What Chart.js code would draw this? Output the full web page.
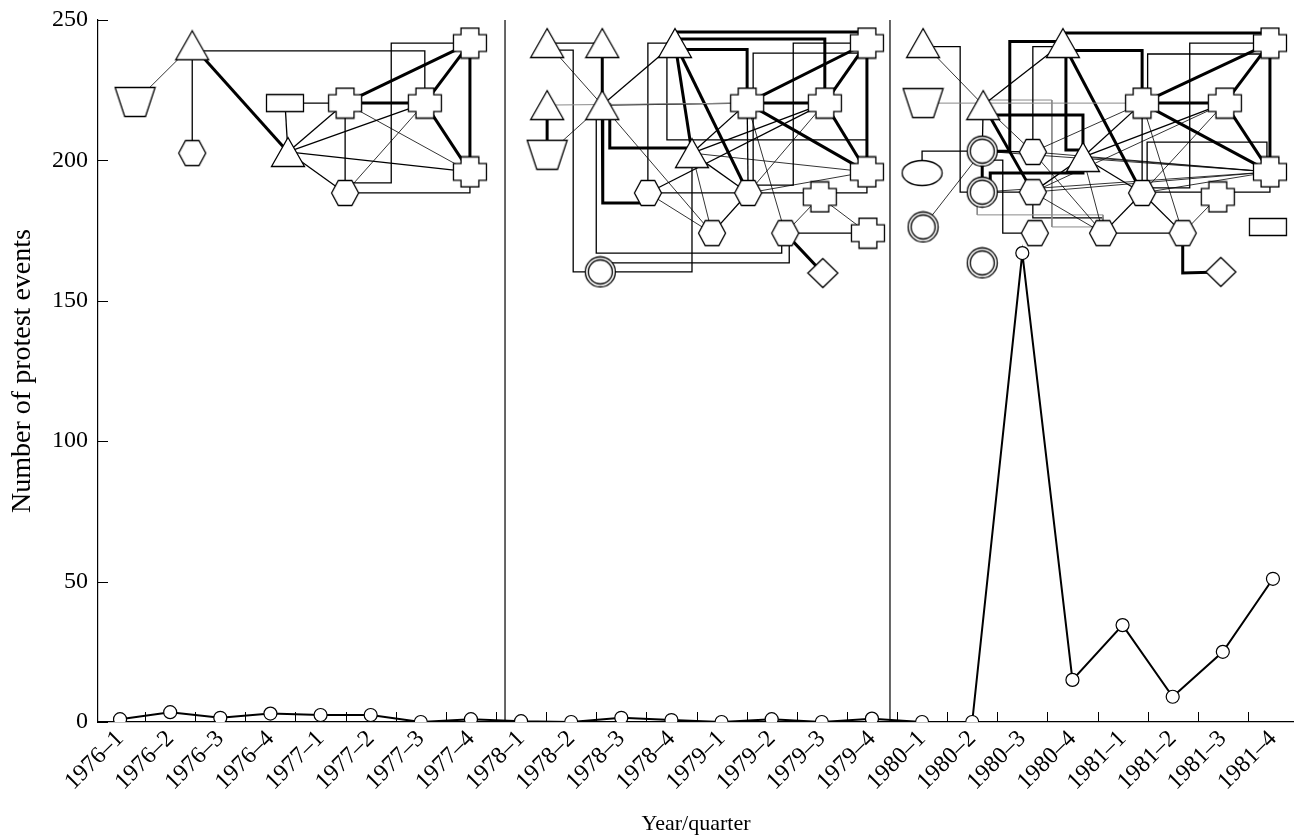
<!DOCTYPE html>
<html>
<head>
<meta charset="utf-8">
<script src="https://cdn.jsdelivr.net/npm/chart.js@4"></script>
<style>
  html, body { margin: 0; padding: 0; background: #fff; }
  #wrap { width: 1294px; height: 837px; }
</style>
</head>
<body>
<div id="wrap"><canvas id="chart"></canvas></div>
<script>
// ---- data ----
const quarterLabels = ['1976–1','1976–2','1976–3','1976–4','1977–1','1977–2','1977–3','1977–4',
  '1978–1','1978–2','1978–3','1978–4','1979–1','1979–2','1979–3','1979–4',
  '1980–1','1980–2','1980–3','1980–4','1981–1','1981–2','1981–3','1981–4'];
const protestEvents = [1, 3.5, 1.5, 3, 2.5, 2.5, 0, 1, 0.3, 0, 1.5, 0.7, 0, 1, 0, 1.2, 0, 0, 167, 15, 34.5, 9, 25, 51];
const periodBreaks = [7.68, 15.36];

// network nodes (x = quarter index, y = value scale)
const nodeX = [1.44, 0.30, 1.44, 3.29, 3.35, 4.49, 6.08, 6.98, 6.98, 4.49,
  8.52, 9.62, 8.52, 8.52, 9.62, 11.07, 11.41, 10.53, 9.58, 11.81, 12.53, 12.51, 14.06, 14.90, 14.90, 13.96, 14.92, 13.27, 14.02,
  16.02, 16.02, 17.22, 16.00, 17.20, 17.20, 16.02, 17.20, 18.21, 18.21, 18.81, 19.21, 18.25, 19.61, 20.39, 20.39, 22.04, 22.94, 22.94, 21.90, 21.20, 22.90, 21.96];
const nodeY = [241, 220.8, 202.6, 220.4, 203, 220.4, 220.4, 241.8, 195.9, 188.4,
  241.8, 241.8, 219.7, 202, 219.7, 241.8, 202.6, 188.4, 160.3, 174.1, 188.4, 220.4, 220.4, 241.8, 195.9, 187, 174.1, 174.1, 159.9,
  241.8, 220.4, 219.7, 195.5, 203.3, 188.7, 176.3, 163.5, 203, 188.7, 241.8, 201.2, 174.1, 174.1, 188.4, 220.4, 220.4, 241.8, 195.9, 187, 174.1, 176.3, 160.3];
const nodeShape = ['tri','trap','hex','rect','tri','cross','cross','cross','cross','hex',
  'tri','tri','tri','trap','tri','tri','tri','hex','ring','hex','hex','cross','cross','cross','cross','cross','cross','hex','diamond',
  'tri','trap','tri','oval','ring','ring','ring','ring','hex','hex','tri','tri','hex','hex','hex','cross','cross','cross','cross','cross','hex','rect','diamond'];

// straight ties: [from, to, weight]  t thin, m medium, T thick, g grey
const straightEdges = [
  [0,1,'t'],[0,2,'m'],[0,4,'T'],[3,4,'m'],[3,5,'m'],[4,5,'m'],[4,6,'m'],[4,8,'m'],[4,9,'m'],[5,6,'T'],[5,7,'T'],
  [5,9,'m'],[5,8,'t'],[6,7,'T'],[6,8,'T'],[6,9,'t'],[7,8,'T'],
  [10,11,'m'],[10,14,'t'],[14,19,'t'],[11,14,'T'],[12,13,'T'],[13,14,'t'],[14,15,'m'],[12,21,'g'],[14,21,'m'],
  [15,16,'T'],[15,20,'T'],[16,21,'m'],[16,22,'m'],[16,24,'t'],[16,19,'t'],[16,20,'m'],[17,22,'m'],[17,19,'t'],
  [17,20,'m'],[20,19,'m'],[20,21,'m'],[20,22,'t'],[20,24,'t'],[21,22,'T'],[21,23,'T'],[21,24,'T'],[22,23,'T'],
  [22,24,'T'],[23,24,'T'],[21,27,'t'],[21,24,'t'],[25,27,'t'],[25,26,'t'],[27,26,'m'],[27,28,'T'],
  [29,31,'t'],[30,44,'g'],[31,39,'m'],[31,38,'T'],[31,37,'t'],[31,33,'m'],[33,34,'T'],[35,33,'t'],[33,37,'m'],
  [39,43,'T'],[44,45,'T'],[44,46,'T'],[44,47,'T'],[45,46,'T'],[45,47,'T'],[46,47,'T'],[40,44,'m'],[40,45,'m'],
  [40,47,'t'],[40,43,'m'],[40,38,'m'],[37,44,'t'],[37,47,'t'],[38,45,'t'],[38,47,'t'],[38,42,'t'],[43,42,'m'],
  [43,49,'m'],[42,49,'m'],[44,43,'m'],[44,49,'t'],[44,47,'t'],[45,43,'t'],[49,48,'t'],[43,47,'t'],[33,47,'t'],
  [34,47,'t'],[37,42,'t'],[40,42,'t'],[34,38,'m']
];

// right-angled ties: [from, to, weight, bend points]
const bentEdges = [
  [0,6,'m',[[1.44,239],[6.08,239]]],
  [9,7,'m',[[4.49,192],[5.41,192],[5.41,241.8]]],
  [9,8,'m',[[6.98,188.4]]],
  [10,18,'m',[[8.52,239.3],[9.04,239.3],[9.04,160.3]]],
  [14,17,'T',[[9.63,219.7],[9.63,184.8],[10.53,184.8]]],
  [14,16,'T',[[9.77,219.7],[9.77,204.4],[11.41,204.4]]],
  [14,27,'m',[[9.50,219.7],[9.50,167],[13.20,167],[13.20,174.1]]],
  [18,27,'m',[[9.58,163.5],[13.35,163.5],[13.35,174.1]]],
  [18,16,'m',[[11.41,160.3]]],
  [15,17,'m',[[10.53,241.8]]],
  [15,21,'T',[[11.07,239.5],[12.51,239.5]]],
  [15,23,'T',[[11.07,245.7],[14.9,245.7]]],
  [15,22,'T',[[11.07,243.2],[14.06,243.2]]],
  [15,24,'m',[[10.91,241.8],[10.91,207.3],[14.9,207.3]]],
  [23,20,'m',[[13.43,241.8],[13.43,191.2],[12.53,191.2]]],
  [23,20,'m',[[14.9,238.2],[12.63,238.2],[12.63,188.4]]],
  [20,24,'m',[[14.9,188.4]]],
  [29,34,'m',[[16.02,240.5],[16.76,240.5],[16.76,188.7]]],
  [32,33,'m',[[16.0,203.3]]],
  [33,39,'T',[[17.75,203.3],[17.75,242.3],[18.81,242.3]]],
  [31,40,'T',[[17.22,216.2],[19.21,216.2]]],
  [34,40,'T',[[17.36,188.7],[17.36,195.5],[19.21,195.5]]],
  [39,40,'T',[[18.87,241.8],[18.87,203.7],[19.21,203.7]]],
  [39,44,'T',[[18.81,239.1],[20.39,239.1]]],
  [39,46,'T',[[18.81,245.4],[22.94,245.4]]],
  [39,37,'m',[[18.81,240.5],[18.21,240.5]]],
  [46,43,'m',[[21.34,241.8],[21.34,190.2],[20.39,190.2]]],
  [46,44,'m',[[22.88,241.8],[22.88,237.9],[20.5,237.9],[20.5,220.4]]],
  [47,43,'m',[[22.88,195.9],[22.88,206.5],[20.49,206.5],[20.49,188.4]]],
  [43,47,'m',[[20.39,188.7],[22.94,188.7]]],
  [49,51,'T',[[21.2,159.9]]],
  [33,41,'m',[[17.2,200.1],[17.61,200.1],[17.61,174.1]]],
  [34,42,'g',[[17.1,188.7],[17.1,180.6],[19.61,180.6]]],
  [31,42,'g',[[17.22,221.5],[18.59,221.5],[18.59,176.3],[19.61,176.3]]],
  [38,42,'m',[[18.21,179.5],[19.61,179.5]]]
];

// ---- drawing helpers ----
const edgeStyle = {
  t: { width: 0.8, color: '#000' },
  m: { width: 1.3, color: '#000' },
  T: { width: 3, color: '#000' },
  g: { width: 1, color: '#8a8a8a' }
};

function shapeCanvas(kind) {
  const dims = { tri: [33, 29], hex: [27, 25], cross: [33, 30], rect: [37, 17], trap: [40, 29],
                 diamond: [30, 29], ring: [30, 30], oval: [40, 25] };
  const [w, h] = dims[kind];
  const c = document.createElement('canvas');
  c.width = w + 3; c.height = h + 3;
  const g = c.getContext('2d');
  g.translate(1.5, 1.5);
  g.fillStyle = '#fff';
  g.strokeStyle = '#000';
  g.lineWidth = 1.3;
  g.beginPath();
  if (kind === 'tri') {
    g.moveTo(w / 2, 0); g.lineTo(w, h); g.lineTo(0, h);
  } else if (kind === 'hex') {
    g.moveTo(0, h / 2); g.lineTo(w * 0.25, 0); g.lineTo(w * 0.75, 0);
    g.lineTo(w, h / 2); g.lineTo(w * 0.75, h); g.lineTo(w * 0.25, h);
  } else if (kind === 'cross') {
    const a = w * 0.23, b = h * 0.22;
    [[a,0],[w-a,0],[w-a,b],[w,b],[w,h-b],[w-a,h-b],[w-a,h],[a,h],[a,h-b],[0,h-b],[0,b],[a,b]]
      .forEach((p, i) => i ? g.lineTo(p[0], p[1]) : g.moveTo(p[0], p[1]));
  } else if (kind === 'rect') {
    g.rect(0, 0, w, h);
  } else if (kind === 'trap') {
    g.moveTo(0, 0); g.lineTo(w, 0); g.lineTo(w * 0.76, h); g.lineTo(w * 0.24, h);
  } else if (kind === 'diamond') {
    g.moveTo(w / 2, 0); g.lineTo(w, h / 2); g.lineTo(w / 2, h); g.lineTo(0, h / 2);
  } else if (kind === 'ring') {
    g.arc(w / 2, h / 2, w / 2, 0, Math.PI * 2);
  } else if (kind === 'oval') {
    g.ellipse(w / 2, h / 2, w / 2, h / 2, 0, 0, Math.PI * 2);
  }
  g.closePath();
  g.fill();
  g.stroke();
  if (kind === 'ring') {
    g.beginPath();
    g.arc(w / 2, h / 2, w / 2 - 3, 0, Math.PI * 2);
    g.stroke();
  }
  return c;
}

const nodePoint = i => ({ x: nodeX[i], y: nodeY[i] });

function edgeDataset(from, to, weight, bends) {
  const pts = [nodePoint(from)].concat((bends || []).map(p => ({ x: p[0], y: p[1] })), [nodePoint(to)]);
  return {
    type: 'line', data: pts, order: 3,
    borderColor: edgeStyle[weight].color, borderWidth: edgeStyle[weight].width,
    pointRadius: 0, fill: false, tension: 0, borderJoinStyle: 'miter'
  };
}

const datasets = [];

// main series
datasets.push({
  type: 'line',
  data: protestEvents.map((v, i) => ({ x: i, y: v })),
  borderColor: '#000', borderWidth: 2, tension: 0, fill: false,
  pointRadius: 6.5, pointBackgroundColor: '#fff', pointBorderColor: '#000', pointBorderWidth: 1.2,
  order: 0
});

// network nodes, one dataset per shape
[...new Set(nodeShape)].forEach(kind => {
  datasets.push({
    type: 'line', showLine: false, order: 1,
    data: nodeShape.map((s, i) => s === kind ? i : -1).filter(i => i >= 0).map(nodePoint),
    pointStyle: shapeCanvas(kind), pointRadius: 10
  });
});

straightEdges.forEach(e => datasets.push(edgeDataset(e[0], e[1], e[2])));
bentEdges.forEach(e => datasets.push(edgeDataset(e[0], e[1], e[2], e[3])));

// period separators
periodBreaks.forEach(b => datasets.push({
  type: 'line', data: [{ x: b, y: 0 }, { x: b, y: 250 }], order: 4,
  borderColor: '#000', borderWidth: 1.2, pointRadius: 0, fill: false
}));

// tick marks drawn on the inside of the axes
const insideTicks = {
  id: 'insideTicks',
  beforeDatasetsDraw(chart) {
    const { ctx, chartArea: a, scales: { x, y } } = chart;
    ctx.save();
    ctx.strokeStyle = '#000';
    ctx.lineWidth = 1;
    ctx.beginPath();
    for (let i = 0; i < quarterLabels.length - 1; i++) {
      const px = Math.round(x.getPixelForValue(i + 0.5)) + 0.5;
      ctx.moveTo(px, a.bottom);
      ctx.lineTo(px, a.bottom - 10);
    }
    y.ticks.forEach(t => {
      const py = Math.round(y.getPixelForValue(t.value)) + 0.5;
      ctx.moveTo(a.left, py);
      ctx.lineTo(a.left + 10, py);
    });
    ctx.stroke();
    ctx.restore();
  }
};

const serif = { family: '"Liberation Serif", "DejaVu Serif", serif', size: 24 };

new Chart(document.getElementById('chart'), {
  type: 'line',
  data: { datasets },
  plugins: [insideTicks],
  options: {
    responsive: true,
    maintainAspectRatio: false,
    animation: false,
    layout: { autoPadding: false, padding: { top: 20, right: 0, left: 0, bottom: 0 } },
    plugins: { legend: { display: false }, tooltip: { enabled: false } },
    scales: {
      x: {
        type: 'linear', min: -0.44, max: 23.42,
        afterBuildTicks: s => { s.ticks = quarterLabels.map((_, i) => ({ value: i })); },
        afterFit: s => { s.height = 115; s.paddingRight = 0; s.paddingLeft = 0; },
        ticks: { autoSkip: false, minRotation: 45, maxRotation: 45, padding: 3, color: '#000',
                 font: serif, callback: v => quarterLabels[v] },
        grid: { display: false, drawTicks: false },
        border: { display: true, color: '#000', width: 1.2 },
        title: { display: true, text: 'Year/quarter', color: '#000', font: { ...serif, size: 22 }, padding: { top: 0, bottom: 0 } }
      },
      y: {
        min: 0, max: 250,
        afterFit: s => { s.width = 98; s.paddingTop = 0; },
        ticks: { stepSize: 50, padding: 10, color: '#000', font: serif },
        grid: { display: false, drawTicks: false },
        border: { display: true, color: '#000', width: 1.2 },
        title: { display: true, text: 'Number of protest events', color: '#000', font: { ...serif, size: 28 }, padding: { top: 6, bottom: 0 } }
      }
    }
  }
});
</script>
</body>
</html>
